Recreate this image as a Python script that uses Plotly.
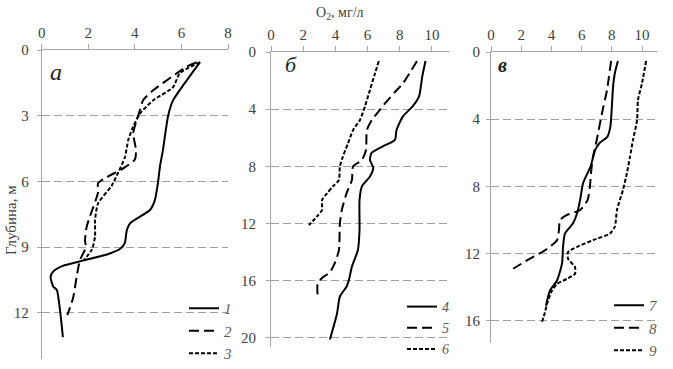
import plotly.graph_objects as go

# ---- data: panel а (depth m, O2 mg/l) ----
a1_depth = [0.55, 1.5, 2.3, 3.0, 4.6, 5.3, 6.0, 6.85, 7.3, 7.9, 8.2, 8.8, 9.05, 9.3, 9.6, 9.85, 10.1, 10.35, 10.8, 10.95, 12.0, 13.1]
a1_o2 = [6.8, 6.15, 5.64, 5.43, 5.2, 5.08, 5.0, 4.86, 4.65, 3.8, 3.66, 3.57, 3.4, 2.9, 1.8, 0.9, 0.5, 0.38, 0.5, 0.65, 0.8, 0.91]
a2_depth = [0.55, 0.77, 1.06, 1.83, 2.28, 2.74, 3.2, 3.8, 4.57, 5.0, 5.4, 5.8, 6.08, 6.5, 7.6, 8.07, 8.7, 9.0, 9.6, 10.35, 11.3, 12.1]
a2_o2 = [6.65, 6.2, 5.8, 4.8, 4.36, 4.22, 4.08, 3.93, 4.05, 4.0, 3.5, 2.8, 2.42, 2.42, 2.07, 1.93, 1.86, 1.9, 1.64, 1.5, 1.35, 1.1]
a3_depth = [0.55, 1.06, 1.7, 2.3, 2.9, 3.5, 4.1, 4.9, 5.6, 6.2, 7.0, 7.76, 8.5, 9.1, 9.6]
a3_o2 = [6.8, 5.93, 5.64, 4.78, 4.22, 3.93, 3.72, 3.57, 3.28, 3.0, 2.42, 2.29, 2.29, 2.16, 1.8]

# ---- panel б ----
b4_depth = [0.63, 1.7, 3.1, 3.8, 4.5, 5.45, 6.15, 6.6, 7.06, 7.55, 8.1, 8.7, 9.4, 10.35, 12.45, 13.85, 15.0, 15.9, 16.4, 17.1, 18.3, 20.1]
b4_o2 = [9.6, 9.4, 9.2, 8.8, 8.2, 7.8, 7.7, 6.95, 6.25, 6.15, 6.35, 6.15, 5.65, 5.5, 5.5, 5.4, 5.03, 4.85, 4.7, 4.28, 4.1, 3.66]
b5_depth = [0.63, 1.5, 2.2, 2.8, 3.6, 4.2, 4.75, 5.45, 6.85, 7.55, 8.0, 8.95, 9.86, 11.05, 12.0, 13.85, 14.75, 15.4, 15.8, 16.2, 17.1]
b5_o2 = [9.07, 8.6, 8.2, 7.7, 7.08, 6.65, 6.27, 5.96, 5.9, 5.65, 5.1, 5.03, 4.7, 4.4, 4.28, 4.22, 3.97, 3.66, 3.17, 2.9, 2.9]
b6_depth = [0.63, 1.5, 2.65, 3.8, 4.75, 5.45, 6.4, 7.3, 8.0, 8.95, 9.4, 9.9, 10.35, 11.05, 11.5, 12.1]
b6_o2 = [6.7, 6.46, 6.15, 5.84, 5.53, 5.1, 4.78, 4.47, 4.28, 4.22, 3.85, 3.47, 3.17, 3.17, 2.86, 2.36]

# ---- panel в ----
c7_depth = [0.53, 1.25, 2.08, 3.27, 4.46, 5.05, 5.4, 5.83, 6.8, 7.8, 8.8, 9.6, 10.2, 10.8, 11.6, 12.6, 13.6, 14.2, 15.1]
c7_o2 = [8.4, 8.2, 8.08, 8.0, 7.9, 7.7, 7.2, 6.9, 6.6, 6.1, 5.9, 5.7, 5.43, 4.9, 4.77, 4.7, 4.37, 3.9, 3.64]
c8_depth = [0.53, 2.26, 3.63, 5.24, 6.25, 7.2, 8.0, 8.8, 9.4, 9.7, 10.0, 10.6, 11.2, 11.8, 12.3, 12.9]
c8_o2 = [7.95, 7.68, 7.35, 7.0, 6.75, 6.62, 6.55, 6.4, 5.9, 5.03, 4.57, 4.5, 4.37, 3.58, 2.58, 1.46]
c9_depth = [0.53, 1.85, 2.86, 4.05, 5.24, 6.25, 7.2, 8.2, 9.4, 10.4, 10.8, 11.2, 11.6, 11.9, 12.3, 12.8, 13.2, 13.5, 13.8, 14.2, 14.8, 15.5, 16.1]
c9_o2 = [10.27, 10.0, 9.73, 9.67, 9.4, 9.2, 9.0, 8.74, 8.34, 8.2, 7.88, 6.75, 5.7, 5.1, 5.1, 5.56, 5.56, 5.03, 4.37, 4.04, 3.77, 3.57, 3.37]

series_labels = ["1", "2", "3", "4", "5", "6", "7", "8", "9"]
x_ticks_a = [0, 2, 4, 6, 8]
x_ticks_bc = [0, 2, 4, 6, 8, 10]
y_ticks_a = [0, 3, 6, 9, 12]
y_ticks_b = [0, 4, 8, 12, 16, 20]
y_ticks_c = [0, 4, 8, 12, 16]

W, H = 673, 369
FONT = "Liberation Serif, Times New Roman, DejaVu Serif, serif"
AX = "#a6a6a6"
DASH_LONG = "10px,5px"
DASH_SHORT = "4px,2px"

series = [
    (a1_o2, a1_depth, "solid", "x", "y", "legend"),
    (a2_o2, a2_depth, DASH_LONG, "x", "y", "legend"),
    (a3_o2, a3_depth, DASH_SHORT, "x", "y", "legend"),
    (b4_o2, b4_depth, "solid", "x2", "y2", "legend2"),
    (b5_o2, b5_depth, DASH_LONG, "x2", "y2", "legend2"),
    (b6_o2, b6_depth, DASH_SHORT, "x2", "y2", "legend2"),
    (c7_o2, c7_depth, "solid", "x3", "y3", "legend3"),
    (c8_o2, c8_depth, DASH_LONG, "x3", "y3", "legend3"),
    (c9_o2, c9_depth, DASH_SHORT, "x3", "y3", "legend3"),
]

fig = go.Figure()
for i, (xv, yv, dash, xa, ya, lg) in enumerate(series):
    fig.add_trace(go.Scatter(
        x=xv, y=yv, mode="lines", xaxis=xa, yaxis=ya, legend=lg,
        name="<i>" + series_labels[i] + "</i>", legendgroup="g" + str(i),
        line=dict(color="black", width=2, dash=dash, shape="spline", smoothing=0.6),
    ))


def px_x(p):
    return p / W


def px_y(p):
    return 1 - p / H


def xaxis(dom, rng, ticks):
    return dict(domain=[px_x(dom[0]), px_x(dom[1])], range=rng, side="top",
                tickvals=ticks, ticks="outside", ticklen=5, tickcolor=AX,
                showline=True, linecolor=AX, linewidth=1, showgrid=False,
                zeroline=False, automargin=False,
                tickfont=dict(family=FONT, size=15, color="#404040"))


def yaxis(dom, rng, ticks, anchor, standoff):
    return dict(domain=[px_y(dom[1]), px_y(dom[0])], range=rng, anchor=anchor,
                tickvals=ticks, ticks="outside", ticklen=4, tickcolor=AX,
                showline=True, linecolor=AX, linewidth=1, automargin=False,
                showgrid=True, gridcolor="#a0a0a0", gridwidth=1, griddash="8px,4px",
                zeroline=False, ticklabelstandoff=standoff,
                tickfont=dict(family=FONT, size=15, color="#404040"))


fig.update_layout(
    width=W, height=H, margin=dict(l=0, r=0, t=0, b=0, autoexpand=False),
    paper_bgcolor="white", plot_bgcolor="white",
    font=dict(family=FONT),
    xaxis=xaxis((41.7, 228), [0, 8], x_ticks_a) | dict(anchor="y"),
    yaxis=yaxis((50, 359), [14.1, 0], y_ticks_a, "x", 5),
    xaxis2=xaxis((271, 449), [0, 11.06], x_ticks_bc) | dict(anchor="y2"),
    yaxis2=yaxis((52, 347), [20.63, 0], y_ticks_b, "x2", 7),
    xaxis3=xaxis((491, 657), [0, 10.99], x_ticks_bc) | dict(anchor="y3"),
    yaxis3=yaxis((52, 343), [17.32, 0], y_ticks_c, "x3", 3),
)


def leg(x, y, size):
    return dict(x=px_x(x), y=px_y(y), bgcolor="rgba(0,0,0,0)", borderwidth=0, tracegroupgap=0,
                font=dict(family=FONT, size=size, color="#595959"),
                xanchor="left", yanchor="top", itemwidth=30)


fig.update_layout(
    legend=leg(184, 292, 15),
    legend2=leg(402, 291, 14),
    legend3=leg(609, 289, 15),
)

ann = [
    dict(text="<i>а</i>", x=px_x(56), y=px_y(72), size=24),
    dict(text="<i>б</i>", x=px_x(291), y=px_y(64), size=22),
    dict(text="<b><i>в</i></b>", x=px_x(502), y=px_y(65), size=20),
]
for a in ann:
    fig.add_annotation(text=a["text"], x=a["x"], y=a["y"], xref="paper", yref="paper",
                       xanchor="center", yanchor="middle",
                       showarrow=False, font=dict(family=FONT, size=a["size"], color="#222"))

fig.add_annotation(text="O<sub>2</sub>, мг/л", x=px_x(340), y=px_y(14), xref="paper", yref="paper",
                   xanchor="center", yanchor="middle",
                   showarrow=False, font=dict(family=FONT, size=14, color="#404040"))
fig.add_annotation(text="Глубина, м", x=px_x(11), y=px_y(220), xref="paper", yref="paper",
                   xanchor="center", yanchor="middle",
                   textangle=-90, showarrow=False, font=dict(family=FONT, size=15, color="#404040"))

fig.write_html("out.html", config={"displayModeBar": False},
               post_script="document.body.style.margin='0';")
